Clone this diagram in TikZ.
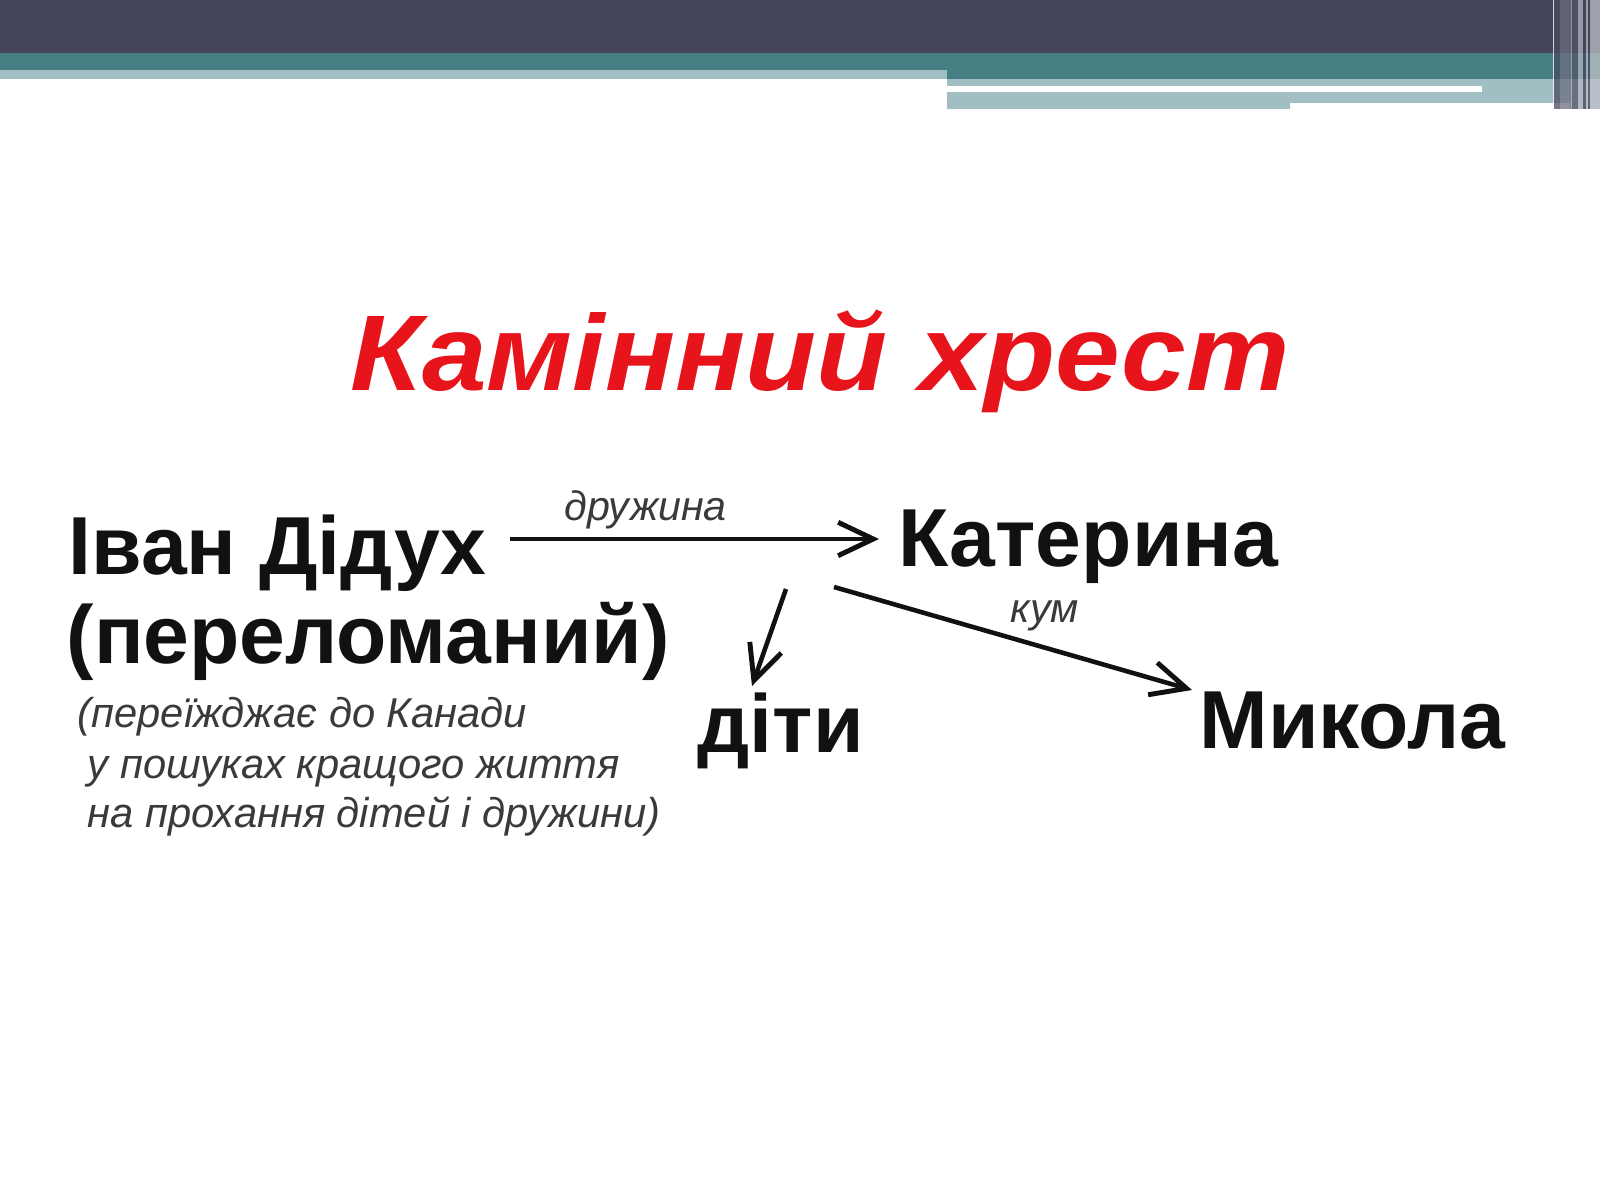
\documentclass[tikz,border=0pt]{standalone}
\usepackage{fontspec}
\setmainfont{Liberation Sans}
\usetikzlibrary{arrows.meta}
\definecolor{bandDark}{HTML}{43435A}
\definecolor{bandTeal}{HTML}{457F83}
\definecolor{bandLight}{HTML}{A1BFC3}
\definecolor{titleRed}{HTML}{E8141C}
\definecolor{inkBlack}{HTML}{111111}
\definecolor{inkGray}{HTML}{3A3A3A}
\definecolor{stA}{RGB}{74,74,96}
\definecolor{stB}{RGB}{110,110,130}
\definecolor{stC}{RGB}{170,170,185}
\definecolor{stD}{RGB}{85,85,105}
\definecolor{stE}{RGB}{180,180,195}
\definecolor{stF}{RGB}{70,70,90}
\definecolor{stG}{RGB}{190,190,200}
\definecolor{stH}{RGB}{192,192,200}
\tikzset{
  titletext/.style={inner sep=0pt, anchor=base west, text=titleRed, xscale=1.08,
    font=\fontsize{30.6pt}{34pt}\selectfont\bfseries\itshape},
  nametext/.style={inner sep=0pt, anchor=base west, text=inkBlack,
    font=\fontsize{23.4pt}{28pt}\selectfont\bfseries},
  notetext/.style={inner sep=0pt, anchor=base west, text=inkGray,
    font=\fontsize{11.85pt}{14pt}\selectfont\itshape},
  linktext/.style={inner sep=0pt, anchor=base west, text=inkGray,
    font=\fontsize{11.7pt}{14pt}\selectfont\itshape},
  relarrow/.style={draw=inkBlack, line width=1.3pt,
    -{Straight Barb[length=10pt,width=9.5pt,line width=1.4pt]}},
  stripe/.style={fill=#1, fill opacity=0.75, draw=none}
}
\begin{document}
\begin{tikzpicture}[x=0.01cm,y=-0.01cm]
\useasboundingbox (0,0) rectangle (1600,1200);
\fill[white] (0,0) rectangle (1600,1200);
% header bands
\fill[bandDark] (0,0) rectangle (1600,53);
\fill[bandTeal] (0,53) rectangle (947,70);
\fill[bandLight] (0,70) rectangle (947,79);
\fill[bandTeal] (947,53) rectangle (1600,79);
\fill[bandLight] (947,79) rectangle (1600,109);
\fill[white] (947,86) rectangle (1482,92);
\fill[white] (1290,103) rectangle (1570,111);
% right stripes
\fill[stripe=white] (1553,0) rectangle (1554,109);
\fill[stripe=stA] (1554,0) rectangle (1560,109);
\fill[stripe=stB] (1560,0) rectangle (1571,109);
\fill[stripe=stC] (1571,0) rectangle (1572,109);
\fill[stripe=stD] (1572,0) rectangle (1578,109);
\fill[stripe=stE] (1578,0) rectangle (1583,109);
\fill[stripe=stF] (1583,0) rectangle (1586,109);
\fill[stripe=stG] (1586,0) rectangle (1588,109);
\fill[stripe=stF] (1588,0) rectangle (1590,109);
\fill[stripe=stH] (1590,0) rectangle (1600,109);

% title
\node[titletext] (title) at (350,390) {Камінний хрест};

% names
\node[nametext] (ivan) at (68,574) {Іван Дідух};
\node[nametext] (ivan2) at (66,663) {(переломаний)};
\node[notetext] (note1) at (77,727) {(переїжджає до Канади};
\node[notetext] (note2) at (87,778) {у пошуках кращого життя};
\node[notetext] (note3) at (87,827) {на прохання дітей і дружини)};
\node[nametext] (kat) at (898,566) {Катерина};
\node[nametext] (dity) at (697,752) {діти};
\node[nametext] (mykola) at (1199,748) {Микола};

% connectors
\coordinate (a1s) at (510,539);
\coordinate (a1e) at (879,539);
\coordinate (a2s) at (786,589);
\coordinate (a2e) at (752,686);
\coordinate (a3s) at (834,587);
\coordinate (a3e) at (1192,690);
\draw[relarrow] (a1s) -- (a1e);
\draw[relarrow] (a2s) -- (a2e);
\draw[relarrow] (a3s) -- (a3e);
\node[linktext] (wife) at (564,520) {дружина};
\node[linktext] (kum) at (1010,622) {кум};
\end{tikzpicture}
\end{document}
